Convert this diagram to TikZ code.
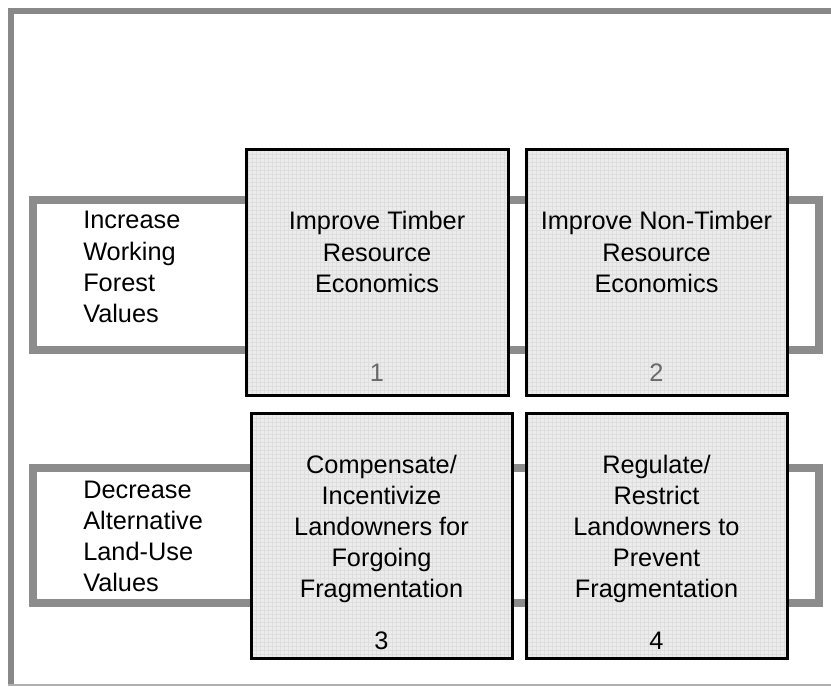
\documentclass[tikz,border=0pt]{standalone}
\usepackage{fontspec}
\setmainfont{Liberation Sans}
\usetikzlibrary{patterns}

\begin{document}
\begin{tikzpicture}[x=0.75pt,y=0.75pt,yscale=-1,xscale=1,
  loop/.style={color={rgb, 255:red, 140; green, 140; blue, 140 }, line width=6},
  box/.style={line width=2.25, preaction={fill={rgb, 255:red, 236; green, 236; blue, 236 }}, pattern=grid, pattern color={rgb, 255:red, 222; green, 222; blue, 222 }},
  txt/.style={inner sep=0.75pt, font=\fontsize{19}{23.3}\selectfont},
  num/.style={txt, anchor=center}]
\path [use as bounding box] (0,0) rectangle (831,686);

%Straight Lines [id:da_frame_top_left] 
\draw [color={rgb, 255:red, 136; green, 136; blue, 136 }, line width=4.5] (831,10.5) -- (10.5,10.5) -- (10.5,684) ;
%Straight Lines [id:da_frame_bottom] 
\draw [color={rgb, 255:red, 175; green, 175; blue, 175 }, line width=1.5] (8,685) -- (831,685) ;

%Shape: Rectangle [id:dp_loop_working] 
\draw [loop] (33,199.5) -- (819,199.5) -- (819,349.5) -- (33,349.5) -- cycle ;
%Shape: Rectangle [id:dp_loop_alternative] 
\draw [loop] (33,468) -- (819,468) -- (819,603) -- (33,603) -- cycle ;

%Shape: Rectangle [id:dp_box_timber] 
\draw [box] (246,149) -- (508,149) -- (508,395) -- (246,395) -- cycle ;
%Shape: Rectangle [id:dp_box_nontimber] 
\draw [box] (526,149) -- (787,149) -- (787,395) -- (526,395) -- cycle ;
%Shape: Rectangle [id:dp_box_compensate] 
\draw [box] (251,413) -- (512,413) -- (512,658) -- (251,658) -- cycle ;
%Shape: Rectangle [id:dp_box_regulate] 
\draw [box] (526,413) -- (787,413) -- (787,658) -- (526,658) -- cycle ;

% Text Node
\draw (82,267) node [anchor=west][txt] [align=left] (working) {Increase\\Working\\Forest\\Values};
% Text Node
\draw (82,536) node [anchor=west][txt] [align=left] (alternative) {Decrease\\Alternative\\Land-Use\\Values};
% Text Node
\draw (377,252) node [anchor=center][txt] [align=center] (timber) {Improve Timber\\Resource\\Economics};
% Text Node
\draw (656.5,252) node [anchor=center][txt] [align=center] (nontimber) {Improve Non-Timber\\Resource\\Economics};
% Text Node
\draw (381.5,529) node [anchor=center][txt] [align=center] (compensate) {Compensate/\\Incentivize\\Landowners for\\Forgoing\\Fragmentation};
% Text Node
\draw (656.5,529) node [anchor=center][txt] [align=center] (regulate) {Regulate/\\Restrict\\Landowners to\\Prevent\\Fragmentation};

% Text Node
\draw (377,373) node [num] [color={rgb, 255:red, 105; green, 105; blue, 105 }] (n1) {1};
% Text Node
\draw (656.5,373) node [num] [color={rgb, 255:red, 105; green, 105; blue, 105 }] (n2) {2};
% Text Node
\draw (381.5,641) node [num] (n3) {3};
% Text Node
\draw (656.5,641) node [num] (n4) {4};

\end{tikzpicture}
\end{document}
